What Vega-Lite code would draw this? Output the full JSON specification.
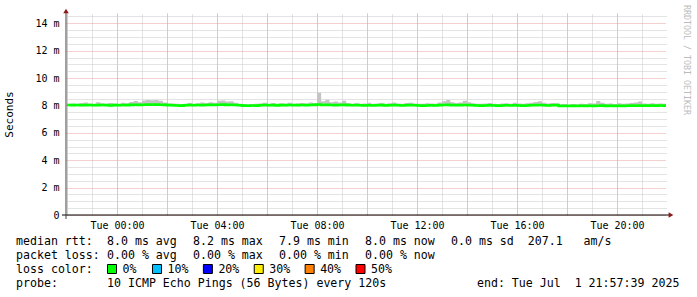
{
"$schema":"https://vega.github.io/schema/vega-lite/v6.json",
"width":600,"height":202,
"autosize":"none",
"padding":{"left":66,"top":13,"right":31,"bottom":82},
"background":"#ffffff",
"config":{"view":{"stroke":null},"font":"DejaVu Sans Mono"},
"data":{"values":[
{"t":"2025-06-30T22:00Z","m":8.03,"lo":7.97,"hi":8.12},
{"t":"2025-06-30T22:10Z","m":8.02,"lo":7.96,"hi":8.15},
{"t":"2025-06-30T22:20Z","m":8.03,"lo":7.97,"hi":8.12},
{"t":"2025-06-30T22:30Z","m":8.01,"lo":7.95,"hi":8.18},
{"t":"2025-06-30T22:40Z","m":8.02,"lo":7.96,"hi":8.22},
{"t":"2025-06-30T22:50Z","m":8.03,"lo":7.97,"hi":8.14},
{"t":"2025-06-30T23:00Z","m":8.01,"lo":7.95,"hi":8.12},
{"t":"2025-06-30T23:10Z","m":8.02,"lo":7.96,"hi":8.24},
{"t":"2025-06-30T23:20Z","m":8.03,"lo":7.97,"hi":8.16},
{"t":"2025-06-30T23:30Z","m":8.02,"lo":7.96,"hi":8.13},
{"t":"2025-06-30T23:40Z","m":8.00,"lo":7.94,"hi":8.18},
{"t":"2025-06-30T23:50Z","m":8.02,"lo":7.96,"hi":8.14},
{"t":"2025-07-01T00:00Z","m":8.01,"lo":7.95,"hi":8.12},
{"t":"2025-07-01T00:10Z","m":8.03,"lo":7.97,"hi":8.20},
{"t":"2025-07-01T00:20Z","m":8.02,"lo":7.96,"hi":8.16},
{"t":"2025-07-01T00:30Z","m":8.04,"lo":7.98,"hi":8.26},
{"t":"2025-07-01T00:40Z","m":8.05,"lo":7.98,"hi":8.32},
{"t":"2025-07-01T00:50Z","m":8.04,"lo":7.98,"hi":8.24},
{"t":"2025-07-01T01:00Z","m":8.05,"lo":7.99,"hi":8.36},
{"t":"2025-07-01T01:10Z","m":8.06,"lo":7.99,"hi":8.40},
{"t":"2025-07-01T01:20Z","m":8.07,"lo":8.00,"hi":8.38},
{"t":"2025-07-01T01:30Z","m":8.06,"lo":7.99,"hi":8.40},
{"t":"2025-07-01T01:40Z","m":8.05,"lo":7.99,"hi":8.34},
{"t":"2025-07-01T01:50Z","m":8.04,"lo":7.98,"hi":8.22},
{"t":"2025-07-01T02:00Z","m":8.02,"lo":7.96,"hi":8.15},
{"t":"2025-07-01T02:10Z","m":8.01,"lo":7.95,"hi":8.14},
{"t":"2025-07-01T02:20Z","m":8.00,"lo":7.94,"hi":8.12},
{"t":"2025-07-01T02:30Z","m":7.99,"lo":7.93,"hi":8.10},
{"t":"2025-07-01T02:40Z","m":8.01,"lo":7.95,"hi":8.13},
{"t":"2025-07-01T02:50Z","m":8.02,"lo":7.96,"hi":8.18},
{"t":"2025-07-01T03:00Z","m":8.01,"lo":7.95,"hi":8.12},
{"t":"2025-07-01T03:10Z","m":8.03,"lo":7.97,"hi":8.16},
{"t":"2025-07-01T03:20Z","m":8.02,"lo":7.96,"hi":8.22},
{"t":"2025-07-01T03:30Z","m":8.03,"lo":7.97,"hi":8.18},
{"t":"2025-07-01T03:40Z","m":8.04,"lo":7.98,"hi":8.24},
{"t":"2025-07-01T03:50Z","m":8.03,"lo":7.97,"hi":8.20},
{"t":"2025-07-01T04:00Z","m":8.05,"lo":7.98,"hi":8.34},
{"t":"2025-07-01T04:10Z","m":8.06,"lo":7.99,"hi":8.36},
{"t":"2025-07-01T04:20Z","m":8.04,"lo":7.98,"hi":8.28},
{"t":"2025-07-01T04:30Z","m":8.05,"lo":7.99,"hi":8.30},
{"t":"2025-07-01T04:40Z","m":8.03,"lo":7.97,"hi":8.20},
{"t":"2025-07-01T04:50Z","m":8.01,"lo":7.95,"hi":8.12},
{"t":"2025-07-01T05:00Z","m":7.99,"lo":7.93,"hi":8.10},
{"t":"2025-07-01T05:10Z","m":7.98,"lo":7.92,"hi":8.08},
{"t":"2025-07-01T05:20Z","m":8.00,"lo":7.94,"hi":8.11},
{"t":"2025-07-01T05:30Z","m":7.99,"lo":7.93,"hi":8.12},
{"t":"2025-07-01T05:40Z","m":8.01,"lo":7.95,"hi":8.14},
{"t":"2025-07-01T05:50Z","m":8.02,"lo":7.96,"hi":8.20},
{"t":"2025-07-01T06:00Z","m":8.01,"lo":7.95,"hi":8.13},
{"t":"2025-07-01T06:10Z","m":8.02,"lo":7.96,"hi":8.18},
{"t":"2025-07-01T06:20Z","m":8.00,"lo":7.94,"hi":8.12},
{"t":"2025-07-01T06:30Z","m":8.02,"lo":7.96,"hi":8.16},
{"t":"2025-07-01T06:40Z","m":8.01,"lo":7.95,"hi":8.14},
{"t":"2025-07-01T06:50Z","m":8.03,"lo":7.97,"hi":8.20},
{"t":"2025-07-01T07:00Z","m":8.02,"lo":7.96,"hi":8.13},
{"t":"2025-07-01T07:10Z","m":8.01,"lo":7.95,"hi":8.16},
{"t":"2025-07-01T07:20Z","m":8.03,"lo":7.97,"hi":8.18},
{"t":"2025-07-01T07:30Z","m":8.02,"lo":7.96,"hi":8.14},
{"t":"2025-07-01T07:40Z","m":8.03,"lo":7.97,"hi":8.22},
{"t":"2025-07-01T07:50Z","m":8.04,"lo":7.98,"hi":8.18},
{"t":"2025-07-01T08:00Z","m":8.07,"lo":7.99,"hi":8.92},
{"t":"2025-07-01T08:10Z","m":8.03,"lo":7.96,"hi":8.30},
{"t":"2025-07-01T08:20Z","m":8.04,"lo":7.97,"hi":8.42},
{"t":"2025-07-01T08:30Z","m":8.03,"lo":7.97,"hi":8.24},
{"t":"2025-07-01T08:40Z","m":8.02,"lo":7.96,"hi":8.28},
{"t":"2025-07-01T08:50Z","m":8.03,"lo":7.97,"hi":8.22},
{"t":"2025-07-01T09:00Z","m":8.04,"lo":7.98,"hi":8.34},
{"t":"2025-07-01T09:10Z","m":8.02,"lo":7.96,"hi":8.18},
{"t":"2025-07-01T09:20Z","m":8.01,"lo":7.95,"hi":8.13},
{"t":"2025-07-01T09:30Z","m":8.02,"lo":7.96,"hi":8.16},
{"t":"2025-07-01T09:40Z","m":8.01,"lo":7.95,"hi":8.12},
{"t":"2025-07-01T09:50Z","m":8.00,"lo":7.94,"hi":8.14},
{"t":"2025-07-01T10:00Z","m":8.01,"lo":7.95,"hi":8.20},
{"t":"2025-07-01T10:10Z","m":8.00,"lo":7.94,"hi":8.12},
{"t":"2025-07-01T10:20Z","m":8.01,"lo":7.95,"hi":8.15},
{"t":"2025-07-01T10:30Z","m":8.02,"lo":7.96,"hi":8.18},
{"t":"2025-07-01T10:40Z","m":8.00,"lo":7.94,"hi":8.13},
{"t":"2025-07-01T10:50Z","m":8.01,"lo":7.95,"hi":8.16},
{"t":"2025-07-01T11:00Z","m":8.02,"lo":7.96,"hi":8.22},
{"t":"2025-07-01T11:10Z","m":8.01,"lo":7.95,"hi":8.14},
{"t":"2025-07-01T11:20Z","m":8.00,"lo":7.94,"hi":8.12},
{"t":"2025-07-01T11:30Z","m":8.01,"lo":7.95,"hi":8.17},
{"t":"2025-07-01T11:40Z","m":8.02,"lo":7.96,"hi":8.20},
{"t":"2025-07-01T11:50Z","m":8.01,"lo":7.95,"hi":8.14},
{"t":"2025-07-01T12:00Z","m":8.00,"lo":7.94,"hi":8.13},
{"t":"2025-07-01T12:10Z","m":7.99,"lo":7.93,"hi":8.12},
{"t":"2025-07-01T12:20Z","m":8.00,"lo":7.94,"hi":8.16},
{"t":"2025-07-01T12:30Z","m":8.01,"lo":7.95,"hi":8.14},
{"t":"2025-07-01T12:40Z","m":8.00,"lo":7.94,"hi":8.12},
{"t":"2025-07-01T12:50Z","m":8.02,"lo":7.96,"hi":8.22},
{"t":"2025-07-01T13:00Z","m":8.03,"lo":7.97,"hi":8.30},
{"t":"2025-07-01T13:10Z","m":8.04,"lo":7.97,"hi":8.40},
{"t":"2025-07-01T13:20Z","m":8.02,"lo":7.96,"hi":8.24},
{"t":"2025-07-01T13:30Z","m":8.01,"lo":7.95,"hi":8.18},
{"t":"2025-07-01T13:40Z","m":8.02,"lo":7.96,"hi":8.22},
{"t":"2025-07-01T13:50Z","m":8.03,"lo":7.97,"hi":8.34},
{"t":"2025-07-01T14:00Z","m":8.02,"lo":7.96,"hi":8.24},
{"t":"2025-07-01T14:10Z","m":8.01,"lo":7.95,"hi":8.16},
{"t":"2025-07-01T14:20Z","m":8.00,"lo":7.94,"hi":8.13},
{"t":"2025-07-01T14:30Z","m":7.99,"lo":7.93,"hi":8.12},
{"t":"2025-07-01T14:40Z","m":8.00,"lo":7.94,"hi":8.14},
{"t":"2025-07-01T14:50Z","m":8.01,"lo":7.95,"hi":8.18},
{"t":"2025-07-01T15:00Z","m":8.00,"lo":7.94,"hi":8.12},
{"t":"2025-07-01T15:10Z","m":7.99,"lo":7.93,"hi":8.10},
{"t":"2025-07-01T15:20Z","m":8.00,"lo":7.94,"hi":8.14},
{"t":"2025-07-01T15:30Z","m":8.01,"lo":7.95,"hi":8.16},
{"t":"2025-07-01T15:40Z","m":8.00,"lo":7.94,"hi":8.12},
{"t":"2025-07-01T15:50Z","m":8.01,"lo":7.95,"hi":8.20},
{"t":"2025-07-01T16:00Z","m":8.00,"lo":7.94,"hi":8.14},
{"t":"2025-07-01T16:10Z","m":7.99,"lo":7.93,"hi":8.12},
{"t":"2025-07-01T16:20Z","m":8.00,"lo":7.94,"hi":8.16},
{"t":"2025-07-01T16:30Z","m":8.01,"lo":7.95,"hi":8.20},
{"t":"2025-07-01T16:40Z","m":8.02,"lo":7.96,"hi":8.26},
{"t":"2025-07-01T16:50Z","m":8.03,"lo":7.97,"hi":8.30},
{"t":"2025-07-01T17:00Z","m":8.01,"lo":7.95,"hi":8.20},
{"t":"2025-07-01T17:10Z","m":8.00,"lo":7.94,"hi":8.15},
{"t":"2025-07-01T17:20Z","m":8.01,"lo":7.95,"hi":8.18},
{"t":"2025-07-01T17:30Z","m":8.02,"lo":7.96,"hi":8.16},
{"t":"2025-07-01T17:40Z","m":7.96,"lo":7.90,"hi":8.08},
{"t":"2025-07-01T17:50Z","m":7.97,"lo":7.91,"hi":8.08},
{"t":"2025-07-01T18:00Z","m":7.96,"lo":7.90,"hi":8.07},
{"t":"2025-07-01T18:10Z","m":7.97,"lo":7.91,"hi":8.10},
{"t":"2025-07-01T18:20Z","m":7.96,"lo":7.90,"hi":8.09},
{"t":"2025-07-01T18:30Z","m":7.98,"lo":7.92,"hi":8.12},
{"t":"2025-07-01T18:40Z","m":7.97,"lo":7.91,"hi":8.10},
{"t":"2025-07-01T18:50Z","m":7.98,"lo":7.92,"hi":8.16},
{"t":"2025-07-01T19:00Z","m":7.97,"lo":7.91,"hi":8.14},
{"t":"2025-07-01T19:10Z","m":7.98,"lo":7.92,"hi":8.32},
{"t":"2025-07-01T19:20Z","m":7.99,"lo":7.93,"hi":8.20},
{"t":"2025-07-01T19:30Z","m":7.97,"lo":7.91,"hi":8.12},
{"t":"2025-07-01T19:40Z","m":7.98,"lo":7.92,"hi":8.14},
{"t":"2025-07-01T19:50Z","m":7.97,"lo":7.91,"hi":8.10},
{"t":"2025-07-01T20:00Z","m":7.98,"lo":7.92,"hi":8.16},
{"t":"2025-07-01T20:10Z","m":7.97,"lo":7.91,"hi":8.12},
{"t":"2025-07-01T20:20Z","m":7.98,"lo":7.92,"hi":8.14},
{"t":"2025-07-01T20:30Z","m":7.99,"lo":7.93,"hi":8.18},
{"t":"2025-07-01T20:40Z","m":7.98,"lo":7.92,"hi":8.22},
{"t":"2025-07-01T20:50Z","m":7.99,"lo":7.93,"hi":8.28},
{"t":"2025-07-01T21:00Z","m":7.98,"lo":7.92,"hi":8.14},
{"t":"2025-07-01T21:10Z","m":7.99,"lo":7.93,"hi":8.12},
{"t":"2025-07-01T21:20Z","m":8.00,"lo":7.94,"hi":8.16},
{"t":"2025-07-01T21:30Z","m":7.99,"lo":7.93,"hi":8.12},
{"t":"2025-07-01T21:40Z","m":8.00,"lo":7.94,"hi":8.14},
{"t":"2025-07-01T21:50Z","m":7.99,"lo":7.93,"hi":8.12},
{"t":"2025-07-01T21:57:39Z","m":7.99,"lo":7.93,"hi":8.12}
]},
"layer":[
 {"mark":{"type":"area","interpolate":"step-after","color":"#c4c4c4"},
  "encoding":{
   "x":{"field":"t","type":"temporal",
    "scale":{"type":"utc","domain":[1751320659000,1751407059000],"nice":false},
    "axis":{"orient":"top","title":null,"domain":false,"ticks":false,"labels":false,
     "values":[1751320800000,1751324400000,1751328000000,1751331600000,1751335200000,1751338800000,1751342400000,1751346000000,1751349600000,1751353200000,1751356800000,1751360400000,1751364000000,1751367600000,1751371200000,1751374800000,1751378400000,1751382000000,1751385600000,1751389200000,1751392800000,1751396400000,1751400000000,1751403600000],
     "grid":true,"gridColor":"#c8c8c8","gridDash":[1,1],"gridOpacity":1}},
   "y":{"field":"lo","type":"quantitative",
    "scale":{"domain":[0,14.75],"nice":false,"zero":false},
    "axis":{"orient":"right","title":null,"domain":false,"ticks":false,"labels":false,
     "values":[0.5,1,1.5,2.5,3,3.5,4.5,5,5.5,6.5,7,7.5,8.5,9,9.5,10.5,11,11.5,12.5,13,13.5,14.5],
     "grid":true,"gridColor":"#c8c8c8","gridDash":[1,1],"gridOpacity":1}},
   "y2":{"field":"hi"}}},
 {"mark":{"type":"line","interpolate":"step-after","color":"#00ff00","strokeWidth":2.6},
  "encoding":{
   "x":{"field":"t","type":"temporal",
    "scale":{"type":"utc","domain":[1751320659000,1751407059000],"nice":false},
    "axis":{"orient":"bottom","title":null,"domain":false,"ticks":false,
     "values":[1751320800000,1751328000000,1751335200000,1751342400000,1751349600000,1751356800000,1751364000000,1751371200000,1751378400000,1751385600000,1751392800000,1751400000000],
     "labelExpr":"(datum.value - 1751328000000) % 14400000 == 0 ? utcFormat(datum.value, '%a %H:%M') : ''",
     "labelOverlap":false,"labelFlush":false,"labelPadding":5,"labelFont":"DejaVu Sans Mono","labelFontSize":10,"labelColor":"#000000",
     "grid":true,"gridColor":"#eaa0a0","gridDash":[1,1],"gridOpacity":1}},
   "y":{"field":"m","type":"quantitative",
    "scale":{"domain":[0,14.75],"nice":false,"zero":false},
    "axis":{"orient":"left","title":"Seconds","titleFont":"DejaVu Sans Mono","titleFontSize":11,"titleFontWeight":"normal","titleColor":"#000000","titlePadding":20,
     "domain":false,"ticks":false,"labelPadding":7,
     "values":[0,2,4,6,8,10,12,14],
     "labelExpr":"datum.value == 0 ? '0' : datum.value + ' m'",
     "labelOverlap":false,"labelFont":"DejaVu Sans Mono","labelFontSize":10,"labelColor":"#000000",
     "grid":true,"gridColor":"#eaa0a0","gridDash":[1,1],"gridOpacity":1}}}},
 {"data":{"values":[{"t0":"2025-06-30T21:57:39Z","t1":"2025-07-01T21:57:39Z","v":0}]},
  "mark":{"type":"rule","color":"#000000","strokeWidth":1,"xOffset":-4,"x2Offset":4},
  "encoding":{
   "x":{"field":"t0","type":"temporal","scale":{"type":"utc","domain":[1751320659000,1751407059000],"nice":false},"axis":null},
   "x2":{"field":"t1"},
   "y":{"field":"v","type":"quantitative","scale":{"domain":[0,14.75],"nice":false,"zero":false},"axis":null}}},
 {"data":{"values":[{"t0":"2025-06-30T21:57:39Z","v0":0,"v1":14.75}]},
  "mark":{"type":"rule","color":"#404040","strokeWidth":1,"yOffset":4,"y2Offset":-3},
  "encoding":{
   "x":{"field":"t0","type":"temporal","scale":{"type":"utc","domain":[1751320659000,1751407059000],"nice":false},"axis":null},
   "y":{"field":"v0","type":"quantitative","scale":{"domain":[0,14.75],"nice":false,"zero":false},"axis":null},
   "y2":{"field":"v1"}}},
 {"data":{"values":[{"t1":"2025-07-01T21:57:39Z","v":0}]},
  "mark":{"type":"point","shape":"triangle-right","filled":true,"opacity":1,"size":30,"color":"#8b1a1a","xOffset":5},
  "encoding":{
   "x":{"field":"t1","type":"temporal","scale":{"type":"utc","domain":[1751320659000,1751407059000],"nice":false},"axis":null},
   "y":{"field":"v","type":"quantitative","scale":{"domain":[0,14.75],"nice":false,"zero":false},"axis":null}}},
 {"data":{"values":[{"t0":"2025-06-30T21:57:39Z","v1":14.75}]},
  "mark":{"type":"point","shape":"triangle-up","filled":true,"opacity":1,"size":30,"color":"#8b1a1a","yOffset":-2},
  "encoding":{
   "x":{"field":"t0","type":"temporal","scale":{"type":"utc","domain":[1751320659000,1751407059000],"nice":false},"axis":null},
   "y":{"field":"v1","type":"quantitative","scale":{"domain":[0,14.75],"nice":false,"zero":false},"axis":null}}},
 {"data":{"values":[
   {"line":0,"slot":-1,"text":"median rtt:"},
   {"line":0,"slot":0,"text":"8.0 ms avg"},
   {"line":0,"slot":1,"text":"8.2 ms max"},
   {"line":0,"slot":2,"text":"7.9 ms min"},
   {"line":0,"slot":3,"text":"8.0 ms now"},
   {"line":0,"slot":4,"text":"0.0 ms sd\u00a0\u00a0207.1\u00a0\u00a0\u00a0am/s"},
   {"line":1,"slot":-1,"text":"packet loss:"},
   {"line":1,"slot":0,"text":"0.00 % avg"},
   {"line":1,"slot":1,"text":"0.00 % max"},
   {"line":1,"slot":2,"text":"0.00 % min"},
   {"line":1,"slot":3,"text":"0.00 % now"},
   {"line":2,"slot":-1,"text":"loss color:"},
   {"line":3,"slot":-1,"text":"probe:"},
   {"line":3,"slot":0,"text":"10 ICMP Echo Pings (56 Bytes) every 120s\u00a0\u00a0\u00a0\u00a0\u00a0\u00a0\u00a0\u00a0\u00a0\u00a0\u00a0\u00a0\u00a0end: Tue Jul\u00a0\u00a01 21:57:39 2025"}
  ]},
  "mark":{"type":"text","align":"left","baseline":"alphabetic","font":"DejaVu Sans Mono","fontSize":11.6,"color":"#000000"},
  "encoding":{
   "x":{"field":"slot","type":"quantitative","scale":{"domain":[-1,0,4],"range":[-50,41,385],"nice":false,"zero":false},"axis":null},
   "y":{"field":"line","type":"quantitative","scale":{"domain":[0,3],"range":[231.5,273.5],"nice":false,"zero":false},"axis":null},
   "text":{"field":"text"}}},
 {"data":{"values":[
   {"i":0,"loss":"0%"},{"i":1,"loss":"10%"},{"i":2,"loss":"20%"},{"i":3,"loss":"30%"},{"i":4,"loss":"40%"},{"i":5,"loss":"50%"}
  ]},
  "mark":{"type":"point","shape":"square","filled":true,"opacity":1,"size":81,"stroke":"#000000","strokeWidth":1,"yOffset":-3.5},
  "encoding":{
   "x":{"field":"i","type":"quantitative","scale":{"domain":[0,1,5],"range":[46,91,294.5],"nice":false,"zero":false},"axis":null},
   "y":{"datum":2,"type":"quantitative","scale":{"domain":[0,3],"range":[231.5,273.5],"nice":false,"zero":false},"axis":null},
   "fill":{"field":"loss","type":"nominal","scale":{"domain":["0%","10%","20%","30%","40%","50%"],"range":["#00ff00","#00c0ff","#0000ff","#ffee00","#ff8000","#ff0000"]},"legend":null}}},
 {"data":{"values":[
   {"i":0,"loss":"0%"},{"i":1,"loss":"10%"},{"i":2,"loss":"20%"},{"i":3,"loss":"30%"},{"i":4,"loss":"40%"},{"i":5,"loss":"50%"}
  ]},
  "mark":{"type":"text","align":"left","baseline":"alphabetic","dx":10.5,"font":"DejaVu Sans Mono","fontSize":11.6,"color":"#000000"},
  "encoding":{
   "x":{"field":"i","type":"quantitative","scale":{"domain":[0,1,5],"range":[46,91,294.5],"nice":false,"zero":false},"axis":null},
   "y":{"datum":2,"type":"quantitative","scale":{"domain":[0,3],"range":[231.5,273.5],"nice":false,"zero":false},"axis":null},
   "text":{"field":"loss"}}},
 {"data":{"values":[{"credit":"RRDTOOL / TOBI OETIKER","row":0}]},
  "mark":{"type":"text","angle":90,"align":"left","baseline":"middle","font":"DejaVu Sans Mono","fontSize":8.3,"color":"#bcbcbc"},
  "encoding":{
   "x":{"field":"row","type":"quantitative","scale":{"domain":[0,1],"range":[620,630],"nice":false,"zero":false},"axis":null},
   "y":{"field":"row","type":"quantitative","scale":{"domain":[0,1],"range":[-8,0],"nice":false,"zero":false},"axis":null},
   "text":{"field":"credit"}}}
],
"resolve":{"scale":{"x":"independent","y":"independent"}}
}
